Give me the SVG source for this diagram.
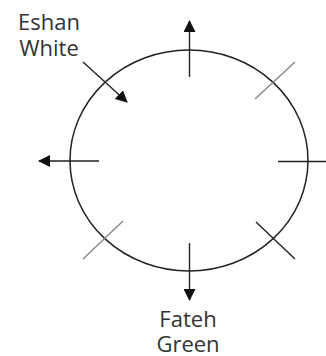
<svg xmlns="http://www.w3.org/2000/svg" width="326" height="356" viewBox="0 0 326 356">
<style>
.lbl{font-family:"Open Sans","Noto Sans",sans-serif;font-size:22px;fill:#333;text-anchor:middle}
.ln{stroke:#222;stroke-width:1.4;fill:none}
.gr{stroke:#888;stroke-width:1.4;fill:none}
</style>
<defs>
<marker id="ah" viewBox="0 0 12 12" refX="11" refY="6" markerWidth="12" markerHeight="12" markerUnits="userSpaceOnUse" orient="auto">
<path d="M0,0 L12,6 L0,12 Z" fill="#111"/>
</marker>
</defs>
<rect width="326" height="356" fill="#fff"/>
<g id="circle">
<ellipse cx="189" cy="160.5" rx="119" ry="110.5" fill="none" stroke="#222" stroke-width="1.5"/>
</g>
<g id="connectors">
<line class="ln" x1="189.5" y1="77" x2="189.5" y2="21" marker-end="url(#ah)"/>
<line class="ln" x1="189.5" y1="243" x2="189.5" y2="300" marker-end="url(#ah)"/>
<line class="ln" x1="99" y1="161" x2="39" y2="161" marker-end="url(#ah)"/>
<line class="ln" x1="278" y1="161.5" x2="326" y2="161.5"/>
<line class="gr" x1="255" y1="99" x2="295" y2="62"/>
<line class="gr" x1="83" y1="259" x2="123" y2="221"/>
<line class="ln" x1="256" y1="222" x2="295" y2="259"/>
<line class="ln" x1="83" y1="62" x2="127" y2="102" marker-end="url(#ah)"/>
</g>
<g id="eshan">
<text class="lbl" x="49" y="30">Eshan</text>
<text class="lbl" x="49" y="56">White</text>
</g>
<g id="fateh">
<text class="lbl" x="188" y="327">Fateh</text>
<text class="lbl" x="188" y="352">Green</text>
</g>
</svg>
